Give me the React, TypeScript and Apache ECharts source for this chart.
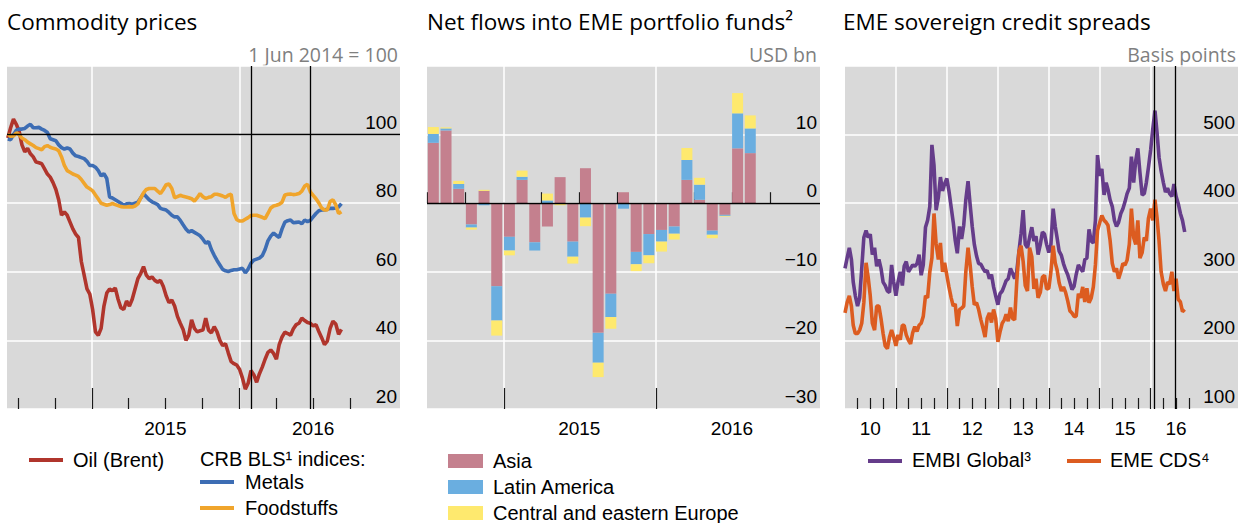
import React, { useEffect, useRef } from "react";
import * as echarts from "echarts";

const DAY = 86400000;

// ---------- Panel 1: Commodity prices (weekly, 1 Jun 2014 = 100) ----------
const COMMODITY_START = Date.UTC(2014, 5, 6);
const OIL = [
  99, 102, 104.5, 103, 101, 97, 95, 96, 94.4, 93.5,
  92, 91.8, 91.5, 90, 88.5, 87.6, 86, 84, 81, 76.5,
  77.5, 76.5, 74.5, 72.5, 71, 70, 63, 59, 55, 53.5,
  49, 42.5, 41.5, 43.5, 50, 53.8, 55, 54.5, 55.3, 52,
  49.5, 49, 51.5, 50, 52, 55, 58, 59.5, 61.5, 59,
  58, 58.5, 57.5, 57, 57.5, 55.7, 53, 51, 51.8, 50,
  47, 45, 43.2, 40, 41.5, 46, 43.5, 42.5, 42.8, 43,
  46.5, 43, 42.2, 44, 42.5, 40, 38.5, 39, 36.3, 33.8,
  33.2, 32.8, 31.5, 29, 25.8, 27.5, 31.2, 30, 27.8, 30.3,
  32.2, 34.5, 36.5, 37.2, 36.2, 34.5, 38.8, 41, 42.4, 42,
  41.5, 43.4, 44.6, 45, 46.5, 45.8, 45.2, 45, 44.2, 44.6,
  42.6, 40.8, 38.8, 39.8, 43.5, 45.6, 44.8, 41.8, 43.2,
];
const METALS = [
  98.7, 98.5, 100, 101.3, 101.6, 101.6, 101.8, 102.5, 103, 102,
  102, 102.1, 101.6, 101.2, 100.6, 98.8, 98.5, 98.2, 97, 96.2,
  95.8, 96.1, 95.8, 94.6, 93.8, 93.6, 93.3, 93, 92.2, 91,
  91, 90.5, 89.5, 88, 88.6, 87.2, 81.8, 81.5, 81, 80.5,
  80, 79.4, 79.8, 79.9, 79.7, 80, 80.3, 81.5, 82.8, 81.9,
  81, 80.4, 80, 79.6, 78.5, 78.2, 78, 77.3, 76.5, 76,
  76, 75, 73.7, 72.5, 71.6, 72, 71.5, 71, 70.5, 69.5,
  68.3, 68.8, 66.5, 64.8, 63.3, 62, 60.7, 60.3, 60.1, 60.4,
  60.6, 60.6, 60.8, 61, 59.7, 60.8, 62.5, 63.4, 63.7, 64,
  64.7, 66.5, 69, 70.4, 71.3, 70.6, 70, 72.5, 74.5, 74.9,
  75.1, 74.3, 74.4, 74.5, 74, 75.1, 74.6, 75, 76, 77,
  77.8, 78, 78, 78.2, 78.5, 78.5, 78.6, 78.9, 79.9,
];
const FOODSTUFFS = [
  100.2, 99.5, 99.6, 100.5, 100, 99, 98.5, 97.8, 97.3, 96.8,
  96.2, 95.9, 95.6, 96.5, 96.8, 96.3, 96, 95.8, 95.3, 93.5,
  91, 89.5, 89, 88.5, 88.2, 87.8, 86.9, 85.8, 84.7, 84.2,
  83.6, 82.4, 81.2, 80, 79.7, 79.4, 79.6, 79.9, 79.6, 79.3,
  79, 78.9, 78.9, 79, 78.9, 79.2, 79.8, 81.5, 83, 84,
  84.3, 84.3, 84.3, 83.5, 82.8, 84, 85.4, 85.6, 84.3, 81.6,
  81.9, 82.3, 82, 81.8, 81.6, 81.3, 80.6, 81.6, 82.8, 81.9,
  81.4, 81.7, 81.9, 82.6, 82.6, 82.4, 82.1, 81.7, 82.3, 82.6,
  77, 75.2, 74.8, 74.8, 75.3, 75.8, 76.4, 76.5, 76.5, 76.2,
  75.9, 75.5, 77, 78.6, 79.2, 79.4, 79.7, 80.3, 82.4, 82.6,
  82.7, 82.5, 82.6, 82.8, 83.5, 85, 85.5, 83.3, 82.3, 81.3,
  80.1, 78.6, 78, 78, 80.5, 81, 79.5, 77, 77.5,
];

// ---------- Panel 2: Net flows into EME portfolio funds (monthly, USD bn) ----------
const FLOW_MONTHS = [
  "2014-07", "2014-08", "2014-09", "2014-10", "2014-11", "2014-12",
  "2015-01", "2015-02", "2015-03", "2015-04", "2015-05", "2015-06",
  "2015-07", "2015-08", "2015-09", "2015-10", "2015-11", "2015-12",
  "2016-01", "2016-02", "2016-03", "2016-04", "2016-05", "2016-06",
  "2016-07", "2016-08",
];
// the axis runs a few months past the last observation
const FLOW_AXIS_MONTHS = [...FLOW_MONTHS, "2016-09", "2016-10", "2016-11", "2016-12", "2017-01"];
const ASIA = [8.8, 10.6, 2.1, -3.1, 1.8, -12.1, -4.9, 3.4, -5.7, -3.4, 3.8, -5.6, 5.1, -18.9, -13.2, 1.6, -7.1, -4.5, -3.9, -3.4, 3.4, 0.5, -4.0, -1.7, 8.0, 7.3];
const LATIN_AMERICA = [1.3, 0.3, 0.7, -0.45, -0.3, -5.0, -2.0, 0.45, -1.2, 0.4, 0, -2.2, -2.1, -4.35, -3.4, -0.8, -1.8, -3.1, -1.7, -1.05, 2.9, 2.2, -0.6, -0.15, 5.1, 3.6];
const CEE = [1.0, 0.15, 0.45, -0.3, 0.15, -2.2, -0.7, 0.9, 0, 1.0, -0.3, -1.0, -1.25, -2.1, -1.7, 0, -1.0, -1.15, -1.45, -0.85, 1.75, 1.0, -0.5, -0.1, 2.95, 1.9];

// ---------- Panel 3: EME sovereign credit spreads (semi-monthly from Jan 2010, bp) ----------
const EMBI_GLOBAL = [
  305, 320, 335, 318, 285, 265, 250, 262, 305, 350,
  360, 350, 355, 325, 335, 308, 318, 305, 285, 280,
  272, 270, 310, 285, 265, 285, 300, 280, 308, 315,
  300, 305, 310, 308, 312, 325, 295, 310, 365, 375,
  395, 485, 455, 390, 408, 438, 418, 428, 436, 418,
  394, 372, 346, 327, 366, 348, 368, 405, 432, 398,
  366, 340, 323, 312, 311, 305, 300, 302, 290, 296,
  278, 265, 252, 268, 272, 280, 287, 290, 305,
  298, 290, 300, 330, 356, 390, 340, 335, 350, 365,
  345, 352, 325, 340, 358, 355, 340, 328, 340, 392,
  366, 350, 330, 324, 312, 303, 296, 285, 274, 279,
  296, 310, 305, 300, 318, 320, 362, 345, 342, 375,
  470, 440, 450, 412, 430, 420, 405, 395, 375, 366,
  372, 385, 392, 402, 414, 422, 468, 430, 462, 480,
  445, 412, 414, 430, 452, 478, 508, 535, 502, 467,
  447, 430, 416, 422, 414, 410, 428, 410, 400, 385,
  375, 358,
];
const EME_CDS = [
  240, 255, 265, 250, 222, 210, 210, 215, 225, 255,
  313, 292, 265, 225, 215, 250, 250, 232, 210, 192,
  188, 205, 215, 205, 192, 208, 201, 222, 222, 208,
  200, 195, 211, 220, 213, 222, 225, 235, 265, 262,
  300, 320, 385, 341, 318, 342, 300, 313, 295, 278,
  262, 250, 253, 221, 245, 247, 250, 300, 335, 310,
  278, 252, 255, 245, 230, 218, 205, 232, 240, 226,
  245, 232, 198, 212, 225, 230, 238, 228, 248,
  232, 230, 285, 330, 338, 315, 280, 272, 335, 322,
  275, 290, 262, 270, 292, 295, 275, 276, 300, 338,
  313, 303, 284, 272, 278, 270, 258, 243, 240, 235,
  235, 268, 262, 278, 256, 276, 255, 262, 278, 310,
  360, 372, 382, 375, 372, 368, 346, 312, 300, 305,
  290, 300, 312, 310, 317, 340, 392, 350, 340, 375,
  320, 328, 350, 345, 378, 392, 375, 405, 378, 345,
  300, 282, 272, 285, 282, 300, 272, 290, 260, 256,
  242, 245,
];

const EVENT_DATES = ["2016-01-29", "2016-06-23"];

// ---------- helpers ----------
const ts = (s: string) => Date.parse(s + "T00:00:00Z");
const monthIdx = (y: number, m: number) => y * 12 + (m - 1);
const quarterTicks = (y0: number, m0: number, y1: number, m1: number) => {
  const short: number[] = [];
  const long: number[] = [];
  for (let t = monthIdx(y0, m0); t <= monthIdx(y1, m1); t += 3) {
    const v = Date.UTC(Math.floor(t / 12), t % 12, 1);
    if (t % 12 === 0) long.push(v);
    else short.push(v);
  }
  return { short, long };
};
const midYears = (y0: number, y1: number) => {
  const out: number[] = [];
  for (let y = y0; y <= y1; y++) out.push(Date.UTC(y, 6, 1));
  return out;
};

const C = {
  bg: "#d9d9d9",
  oil: "#b0352c",
  metals: "#3d6db4",
  food: "#f0a52c",
  asia: "#c4808e",
  latam: "#6aaee0",
  cee: "#fee96e",
  embi: "#653c8a",
  cds: "#dc5c20",
};
const LABEL_FONT = "'Liberation Sans', Arial, sans-serif";
const TITLE_FONT = "'Open Sans', 'Noto Sans', sans-serif";

function buildOption(): any {
  const events = EVENT_DATES.map(ts);
  const p1 = quarterTicks(2014, 7, 2016, 10);
  const p3 = quarterTicks(2010, 4, 2016, 10);
  const yearFmt = (v: number) => String(new Date(v).getUTCFullYear());
  const shortYearFmt = (v: number) => String(new Date(v).getUTCFullYear() % 100);
  const minusFmt = (v: number) => (v < 0 ? "\u2212" + Math.abs(v) : String(v));

  const grids = [
    { left: 7, top: 66, width: 393, height: 343 },
    { left: 427, top: 66, width: 393, height: 343 },
    { left: 845, top: 66, width: 393, height: 343 },
  ].map((g) => ({ ...g, show: true, backgroundColor: C.bg, borderWidth: 0 }));

  const xPair = (grid: number, min: number, max: number, short: number[], long: number[], labels: number[], fmt: (v: number) => string) => [
    {
      gridIndex: grid, type: "value", position: "bottom", min, max,
      axisLine: { show: false },
      axisTick: { show: true, inside: true, length: 11, customValues: short, lineStyle: { color: "#1a1a1a", width: 1.2 } },
      axisLabel: { show: true, customValues: labels, formatter: fmt, margin: 10, fontSize: 19, fontFamily: LABEL_FONT, color: "#000" },
      splitLine: { show: false },
    },
    {
      gridIndex: grid, type: "value", position: "bottom", min, max,
      axisLine: { show: false },
      axisTick: { show: true, inside: true, length: 21, customValues: long, lineStyle: { color: "#1a1a1a", width: 1.2 } },
      axisLabel: { show: false },
      splitLine: { show: true, lineStyle: { color: "#ffffff", width: 1.5 } },
    },
  ];

  const yAx = (grid: number, min: number, max: number, interval: number) => ({
    gridIndex: grid, type: "value", position: "right", min, max, interval,
    axisLine: { show: false },
    axisTick: { show: false },
    axisLabel: {
      inside: true, margin: 3, showMaxLabel: false, showMinLabel: true,
      verticalAlign: "bottom", padding: [0, 0, 3, 0],
      fontSize: 19, fontFamily: LABEL_FONT, color: "#000", formatter: minusFmt,
    },
    splitLine: { show: true, lineStyle: { color: "#ffffff", width: 1.5 } },
  });

  const blackLine = { color: "#000", width: 1.3, type: "solid" };
  const markLines = (data: any[]) => ({
    silent: true, symbol: ["none", "none"], label: { show: false },
    lineStyle: blackLine, emphasis: { disabled: true }, data,
  });

  const weekly = (arr: number[]) => arr.map((v, i) => [COMMODITY_START + i * 7 * DAY, v]);
  const semiMonthly = (arr: number[]) => arr.map((v, i) => [Date.UTC(2010, Math.floor(i / 2), i % 2 ? 16 : 1), v]);

  const line = (name: string, data: any[], color: string, xi: number, yi: number, extra: any = {}) => ({
    name, type: "line", data, xAxisIndex: xi, yAxisIndex: yi, showSymbol: false, symbol: "none",
    lineStyle: { color, width: 3.6 }, itemStyle: { color }, clip: true, ...extra,
  });
  const bar = (name: string, data: number[], color: string, extra: any = {}) => ({
    name, type: "bar", data, xAxisIndex: 6, yAxisIndex: 1, stack: "flows", barWidth: 11,
    itemStyle: { color }, ...extra,
  });

  const txt = (text: string, x: number, y: number, opts: any = {}) => ({
    type: "text", x, y, silent: true,
    style: { text, fontSize: 20, fontFamily: LABEL_FONT, fill: "#000", align: "left", verticalAlign: "middle", ...opts },
  });
  const swLine = (x: number, y: number, color: string) => ({
    type: "line", silent: true, shape: { x1: x, y1: y, x2: x + 34, y2: y }, style: { stroke: color, lineWidth: 4 },
  });
  const swRect = (x: number, y: number, color: string) => ({
    type: "rect", silent: true, shape: { x, y: y - 7, width: 35, height: 14 }, style: { fill: color },
  });

  return {
    animation: false,
    backgroundColor: "#ffffff",
    grid: grids,
    xAxis: [
      ...xPair(0, ts("2014-06-04"), ts("2017-02-01"), p1.short, p1.long, midYears(2015, 2016), yearFmt),
      ...xPair(1, ts("2014-07-01"), ts("2017-01-28"), p1.short, p1.long, midYears(2015, 2016), yearFmt),
      ...xPair(2, ts("2010-01-01"), ts("2017-09-18"), p3.short, p3.long, midYears(2010, 2016), shortYearFmt),
      { gridIndex: 1, type: "category", data: FLOW_AXIS_MONTHS, boundaryGap: true, show: false },
    ],
    yAxis: [yAx(0, 20, 120, 20), yAx(1, -30, 20, 10), yAx(2, 100, 600, 100)],
    series: [
      line("Oil (Brent)", weekly(OIL), C.oil, 0, 0, {
        markLine: markLines([{ yAxis: 100 }, ...events.map((e) => ({ xAxis: e }))]),
      }),
      line("Metals", weekly(METALS), C.metals, 0, 0),
      line("Foodstuffs", weekly(FOODSTUFFS), C.food, 0, 0),
      bar("Asia", ASIA, C.asia, { markLine: markLines([{ yAxis: 0 }]) }),
      bar("Latin America", LATIN_AMERICA, C.latam),
      bar("Central and eastern Europe", CEE, C.cee),
      line("EMBI Global", semiMonthly(EMBI_GLOBAL), C.embi, 4, 2),
      line("EME CDS", semiMonthly(EME_CDS), C.cds, 4, 2, {
        markLine: markLines(events.map((e) => ({ xAxis: e }))),
      }),
    ],
    graphic: [
      txt("Commodity prices", 7, 21, { fontSize: 22.5, fontFamily: TITLE_FONT }),
      txt("Net flows into EME portfolio funds\u00b2", 427, 21, { fontSize: 22.5, fontFamily: TITLE_FONT }),
      txt("EME sovereign credit spreads", 843, 21, { fontSize: 22.5, fontFamily: TITLE_FONT }),
      txt("1 Jun 2014 = 100", 398, 54, { fontSize: 19.5, fontFamily: TITLE_FONT, fill: "#7f7f7f", align: "right" }),
      txt("USD bn", 817, 54, { fontSize: 19.5, fontFamily: TITLE_FONT, fill: "#7f7f7f", align: "right" }),
      txt("Basis points", 1236, 54, { fontSize: 19.5, fontFamily: TITLE_FONT, fill: "#7f7f7f", align: "right" }),
      // panel 1 legend
      swLine(29, 460, C.oil),
      txt("Oil (Brent)", 73, 460),
      txt("CRB BLS\u00b9 indices:", 200, 459),
      swLine(200, 482, C.metals),
      txt("Metals", 245, 482),
      swLine(200, 508, C.food),
      txt("Foodstuffs", 245, 508),
      // panel 2 legend
      swRect(448, 461, C.asia),
      txt("Asia", 493, 461),
      swRect(448, 487, C.latam),
      txt("Latin America", 493, 487),
      swRect(448, 513, C.cee),
      txt("Central and eastern Europe", 493, 513),
      // panel 3 legend
      swLine(868, 461, C.embi),
      txt("EMBI Global\u00b3", 912, 460),
      swLine(1067, 461, C.cds),
      txt("EME CDS\u2074", 1110, 460),
    ],
  };
}

export default function App() {
  const ref = useRef<HTMLDivElement>(null);
  useEffect(() => {
    if (!ref.current) return;
    const chart = echarts.init(ref.current, null, { renderer: "svg" });
    chart.setOption(buildOption());
    return () => chart.dispose();
  }, []);
  return (
    <div
      ref={ref}
      style={{ position: "fixed", left: 0, top: 0, width: 1240, height: 523, background: "#fff" }}
    />
  );
}
